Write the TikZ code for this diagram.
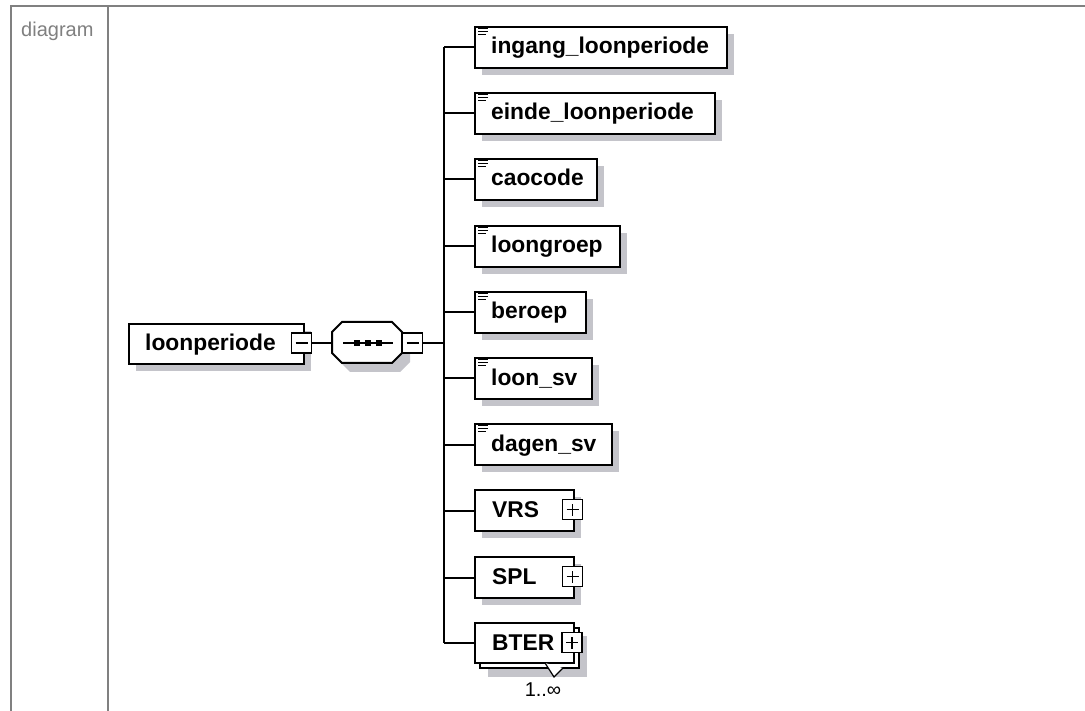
\documentclass[tikz,border=0pt]{standalone}
\usepackage{fontspec}
\setmainfont{Liberation Sans}
\definecolor{shadowc}{RGB}{196,196,202}
\definecolor{tablec}{RGB}{128,128,128}
\begin{document}
\begin{tikzpicture}[x=1pt,y=-1pt,
  tline/.style={draw=tablec,line width=2pt},
  ebox/.style={draw=black,fill=white,line width=2pt,inner sep=0pt},
  shd/.style={fill=shadowc},
  conn/.style={draw=black,line width=2pt},
  pm/.style={draw=black,fill=white,line width=1.6pt,minimum size=20pt,inner sep=0pt},
  sign/.style={draw=black,line width=1.5pt},
  etext/.style={font=\fontsize{22.8}{26}\selectfont\bfseries,inner sep=0pt,anchor=base west},
  icon/.style={draw=black,line width=1.4pt}]
\useasboundingbox (0,0) rectangle (1085,711);
\fill[white] (0,0) rectangle (1085,711);
% table
\draw[tline] (11,711) -- (11,6) -- (1085,6);
\draw[tline] (108,6) -- (108,711);
\node[text=tablec,font=\fontsize{20}{24}\selectfont,inner sep=0pt,anchor=base west] (diag) at (21,37) {diagram};
% root element
\fill[shd] (136,331) rectangle (311,371);
\node[ebox,anchor=north west,minimum width=175pt,minimum height=40pt] (root) at (128,323) {};
\node[etext] (roottxt) at (145,351) {loonperiode};
\node[pm] (rootpm) at (301.5,343) {};
\draw[sign] ([xshift=-6pt]rootpm.center) -- ([xshift=6pt]rootpm.center);
% sequence
\coordinate (seqW) at (332,343);
\coordinate (tr) at (444,343);
\fill[shd] (350,331) -- (400,331) -- (410,341) -- (410,362) -- (400,372) -- (350,372) -- (340,362) -- (340,341) -- cycle;
\draw[ebox] (342,322) -- (392,322) -- (402,332) -- (402,353) -- (392,363) -- (342,363) -- (332,353) -- (332,332) -- cycle;
\draw[line width=1.5pt] (343,343) -- (393,343);
\foreach \cx in {357,368,379}{\fill (\cx-2.8,340.2) rectangle (\cx+2.8,345.8);}
\node[pm] (seqpm) at (412.5,343) {};
\draw[sign] ([xshift=-6pt]seqpm.center) -- ([xshift=6pt]seqpm.center);
\draw[conn] (rootpm.east) -- (seqW);
\draw[conn] (seqpm.east) -- (tr);
% simple children
\foreach \n/\t/\r/\l in {c0/26/726/ingang\_loonperiode,c1/92/714/einde\_loonperiode,c2/158/596/caocode,c3/225/619/loongroep,c4/291/585/beroep,c5/357/591/loon\_sv,c6/423/611/dagen\_sv}{
  \fill[shd] (482,\t+8) rectangle (\r+8,\t+49);
  \node[ebox,anchor=north west,minimum width={\r-474},minimum height=41pt] (\n) at (474,\t) {};
  \node[etext] (\n t) at (491,\t+28) {\l};
  \draw[icon] (478,\t+2.5) -- ++(9.5,0);
  \draw[icon] (478,\t+5.5) -- ++(9.5,0);
  \draw[icon] (478,\t+8.5) -- ++(7.5,0);
  \draw[conn] (tr |- \n.west) -- (\n.west);
}
% complex children
\foreach \n/\t/\l in {c7/489/VRS,c8/556/SPL}{
  \fill[shd] (482,\t+8) rectangle (581,\t+49);
  \node[ebox,anchor=north west,minimum width=99pt,minimum height=41pt] (\n) at (474,\t) {};
  \node[etext] (\n t) at (492,\t+28) {\l};
  \node[pm] (\n pm) at (572.5,\t+20.5) {};
  \draw[sign] ([xshift=-6pt]\n pm.center) -- ([xshift=6pt]\n pm.center);
  \draw[sign] ([yshift=-6pt]\n pm.center) -- ([yshift=6pt]\n pm.center);
  \draw[conn] (tr |- \n.west) -- (\n.west);
}
% repeated child
\fill[shd] (488,636) rectangle (587,677);
\node[ebox,anchor=north west,minimum width=99pt,minimum height=40pt] (c9b) at (479,627) {};
\node[ebox,anchor=north west,minimum width=99pt,minimum height=40pt] (c9) at (474,622) {};
\node[etext] (c9t) at (492,650) {BTER};
\node[pm] (c9pm) at (572,642.5) {};
\draw[sign] ([xshift=-6pt]c9pm.center) -- ([xshift=6pt]c9pm.center);
\draw[sign] ([yshift=-6pt]c9pm.center) -- ([yshift=6pt]c9pm.center);
\filldraw[fill=white,draw=black,line width=1.2pt] (545,663) -- (554,677) -- (563,668);
\draw[conn] (tr |- c9.west) -- (c9.west);
\draw[conn] (tr |- c0.west) -- (tr |- c9.west);
\node[font=\fontsize{20}{24}\selectfont,inner sep=0pt] (mult) at (543,690) {1..∞};
\end{tikzpicture}
\end{document}
